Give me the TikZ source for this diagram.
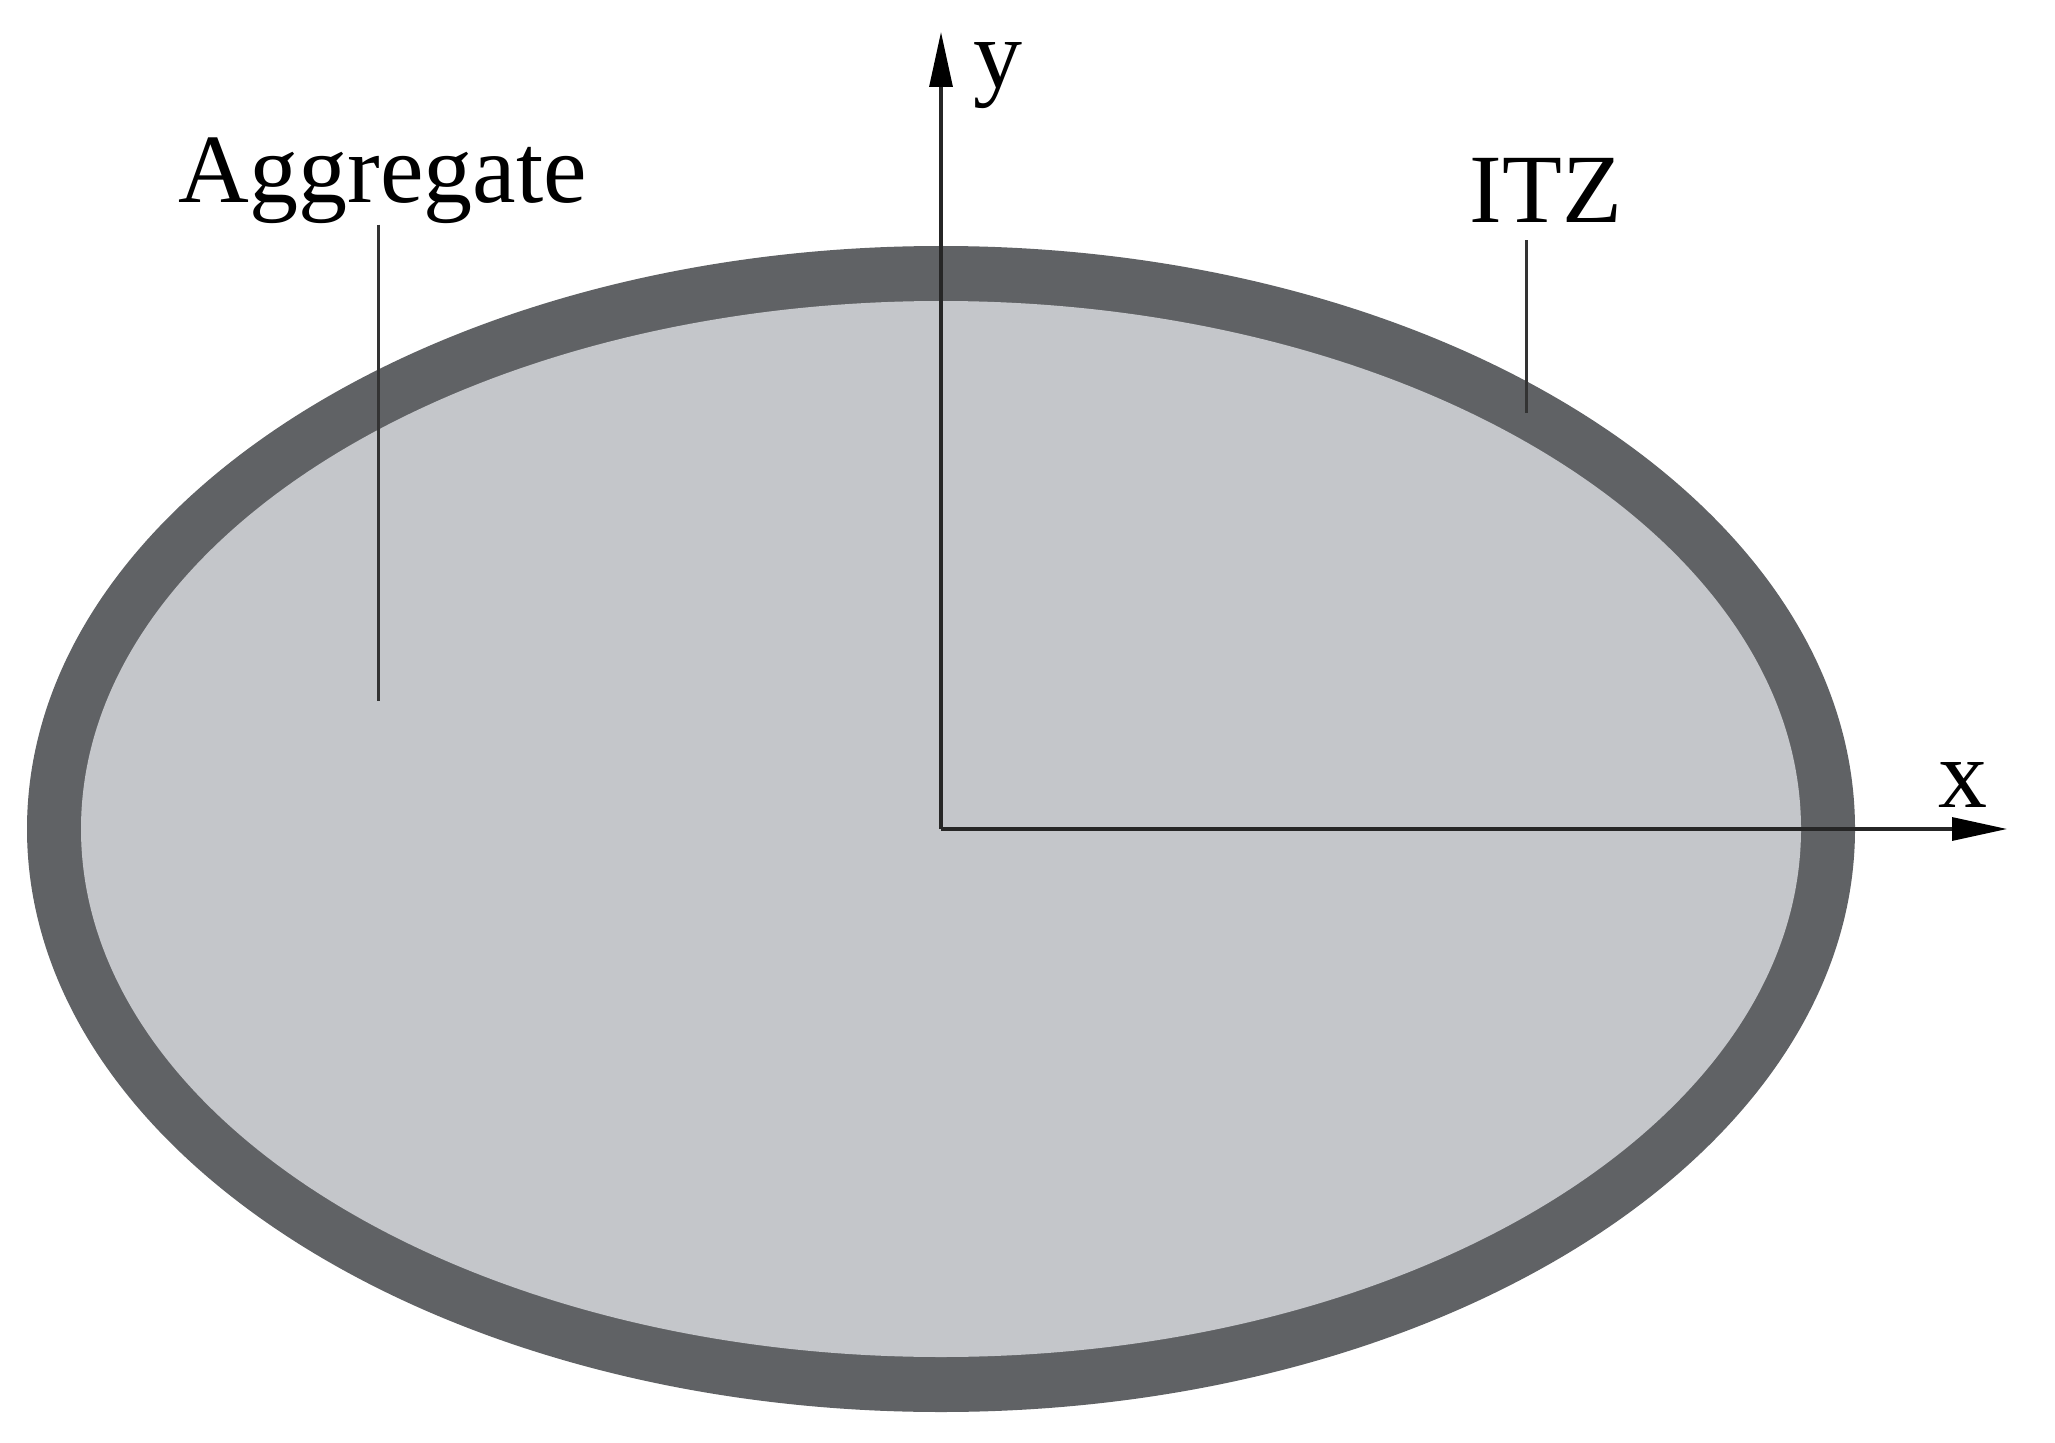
\documentclass[tikz,border=0pt]{standalone}
\usepackage{fontspec}
\setmainfont{Liberation Serif}
\usetikzlibrary{arrows.meta,calc}
\definecolor{itzgray}{RGB}{96,98,101}
\definecolor{agggray}{RGB}{196,198,202}
\tikzset{
  lbl/.style={font=\fontsize{49}{55}\selectfont, inner sep=0pt, anchor=base, text=black},
  leader/.style={draw=black!80, line width=1.5pt},
  axisline/.style={draw=black!85, line width=1.6pt, -{Triangle[length=27.5pt,width=11.5pt,fill=black,color=black]}}
}
\begin{document}
\begin{tikzpicture}[x=0.5pt,y=-0.5pt]
\useasboundingbox[fill=white] (0,0) rectangle (2055,1443);
% particle
\coordinate (c) at (941,829);
\fill[itzgray] (c) ellipse [x radius=457pt, y radius=291.5pt];
\fill[agggray] (c) ellipse [x radius=430pt, y radius=264pt];
% axes
\coordinate (o) at (941,829);
\coordinate (xend) at (2007,829);
\coordinate (yend) at (941,32);
\draw[axisline] (o) -- (xend);
\draw[axisline] (o) -- (yend);
\node[lbl] (xl) at (1963,807) {x};
\node[lbl] (yl) at (998,88) {y};
% labels
\node[lbl] (agg) at (383,203) {Aggregate};
\coordinate (aggend) at (378,701);
\draw[leader] (agg.south -| aggend) -- (aggend);
\node[lbl] (itz) at (1546,223) {ITZ};
\coordinate (itzend) at (1526,413);
\draw[leader, shorten <=8.5pt] (itz.south -| itzend) -- (itzend);
\end{tikzpicture}
\end{document}
